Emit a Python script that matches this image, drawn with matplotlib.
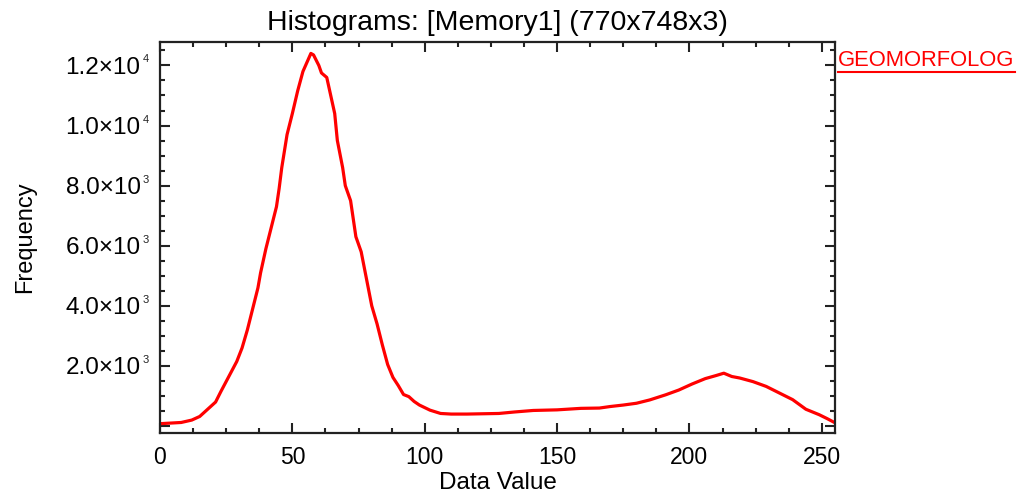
import matplotlib
matplotlib.use("Agg")
import matplotlib.pyplot as plt
import matplotlib.transforms as mtransforms
from matplotlib.ticker import FixedLocator, MultipleLocator

plt.rcParams['font.family'] = ['Liberation Sans', 'DejaVu Sans']

title = "Histograms: [Memory1] (770x748x3)"
x_label = "Data Value"
y_label = "Frequency"
side_label = "GEOMORFOLOG"

data_value = [0, 4, 8, 12, 15, 18, 21, 23, 26, 29, 31, 33, 35, 37, 38, 40, 42, 44,
              45, 46, 48, 50, 52, 54, 55, 57, 58, 60, 61, 63, 65, 66, 67, 69, 70,
              72, 74, 76, 78, 80, 82, 84, 86, 88, 90, 92, 94, 96, 98, 102, 106,
              110, 116, 122, 128, 134, 141, 150, 159, 166, 170, 175, 180, 185,
              191, 196, 201, 206, 210, 213, 216, 219, 224, 229, 234, 239, 244,
              249, 252, 255]
frequency = [80, 100, 120, 200, 320, 560, 800, 1150, 1650, 2150, 2600, 3200, 3900,
             4600, 5100, 5900, 6600, 7300, 7900, 8600, 9700, 10400, 11150, 11800,
             12000, 12400, 12350, 12000, 11750, 11600, 10800, 10400, 9500, 8600,
             8000, 7500, 6300, 5800, 4900, 4000, 3400, 2700, 2050, 1620, 1350,
             1050, 980, 820, 700, 530, 420, 400, 400, 410, 420, 470, 520, 540,
             590, 600, 650, 700, 760, 870, 1040, 1200, 1400, 1580, 1680, 1760,
             1650, 1600, 1480, 1320, 1100, 880, 560, 380, 250, 110]

y_ticks = [0, 2000, 4000, 6000, 8000, 10000, 12000]
y_tick_mantissa = ["", "2.0\u00d710", "4.0\u00d710", "6.0\u00d710",
                   "8.0\u00d710", "1.0\u00d710", "1.2\u00d710"]
y_tick_exponent = ["", "3", "3", "3", "3", "4", "4"]
x_ticks = [0, 50, 100, 150, 200, 250]

fig = plt.figure(figsize=(10.19, 4.92), dpi=100)
ax = fig.add_axes([160/1019, 1-433/492, 675/1019, 391/492])
ax.plot(data_value, frequency, color='#ff0000', lw=2.3)
ax.set_xlim(0, 255)
ax.set_ylim(-230, 12780)
ax.xaxis.set_major_locator(FixedLocator(x_ticks))
ax.xaxis.set_minor_locator(MultipleLocator(12.5))
ax.yaxis.set_major_locator(FixedLocator(y_ticks))
ax.yaxis.set_minor_locator(MultipleLocator(500))
ax.set_yticklabels(y_tick_mantissa)
ax.tick_params(which='both', direction='in', top=True, right=True,
               width=1.5, color='#222222', labelsize=16.5)
ax.tick_params(axis='y', labelsize=17.5, pad=14)
ax.tick_params(axis='x', pad=9.5)
ax.tick_params(which='major', length=7.5)
ax.tick_params(which='minor', length=3.5)
for s in ax.spines.values():
    s.set_linewidth(1.6)
    s.set_color('#222222')

# small exponents next to the y tick labels
exp_tr = ax.get_yaxis_transform() + mtransforms.ScaledTranslation(-17/100, 6/100, fig.dpi_scale_trans)
for yv, ex in zip(y_ticks, y_tick_exponent):
    if ex:
        ax.text(0, yv, ex, transform=exp_tr, fontsize=8, ha='left', va='center',
                color='#222222')

ax.set_title(title, fontsize=20.5, pad=9)
ax.set_xlabel(x_label, fontsize=17.5, labelpad=2)
ax.set_ylabel(y_label, fontsize=17, labelpad=21)
fig.text(838/1019, 1-66/492, side_label, color='#ff0000', fontsize=15.8,
         va='baseline', ha='left')
fig.add_artist(plt.Line2D([838/1019, 1015/1019], [1-72/492, 1-72/492],
                          color='#ff0000', lw=1.5, transform=fig.transFigure))
fig.savefig('out.png', dpi=100)
